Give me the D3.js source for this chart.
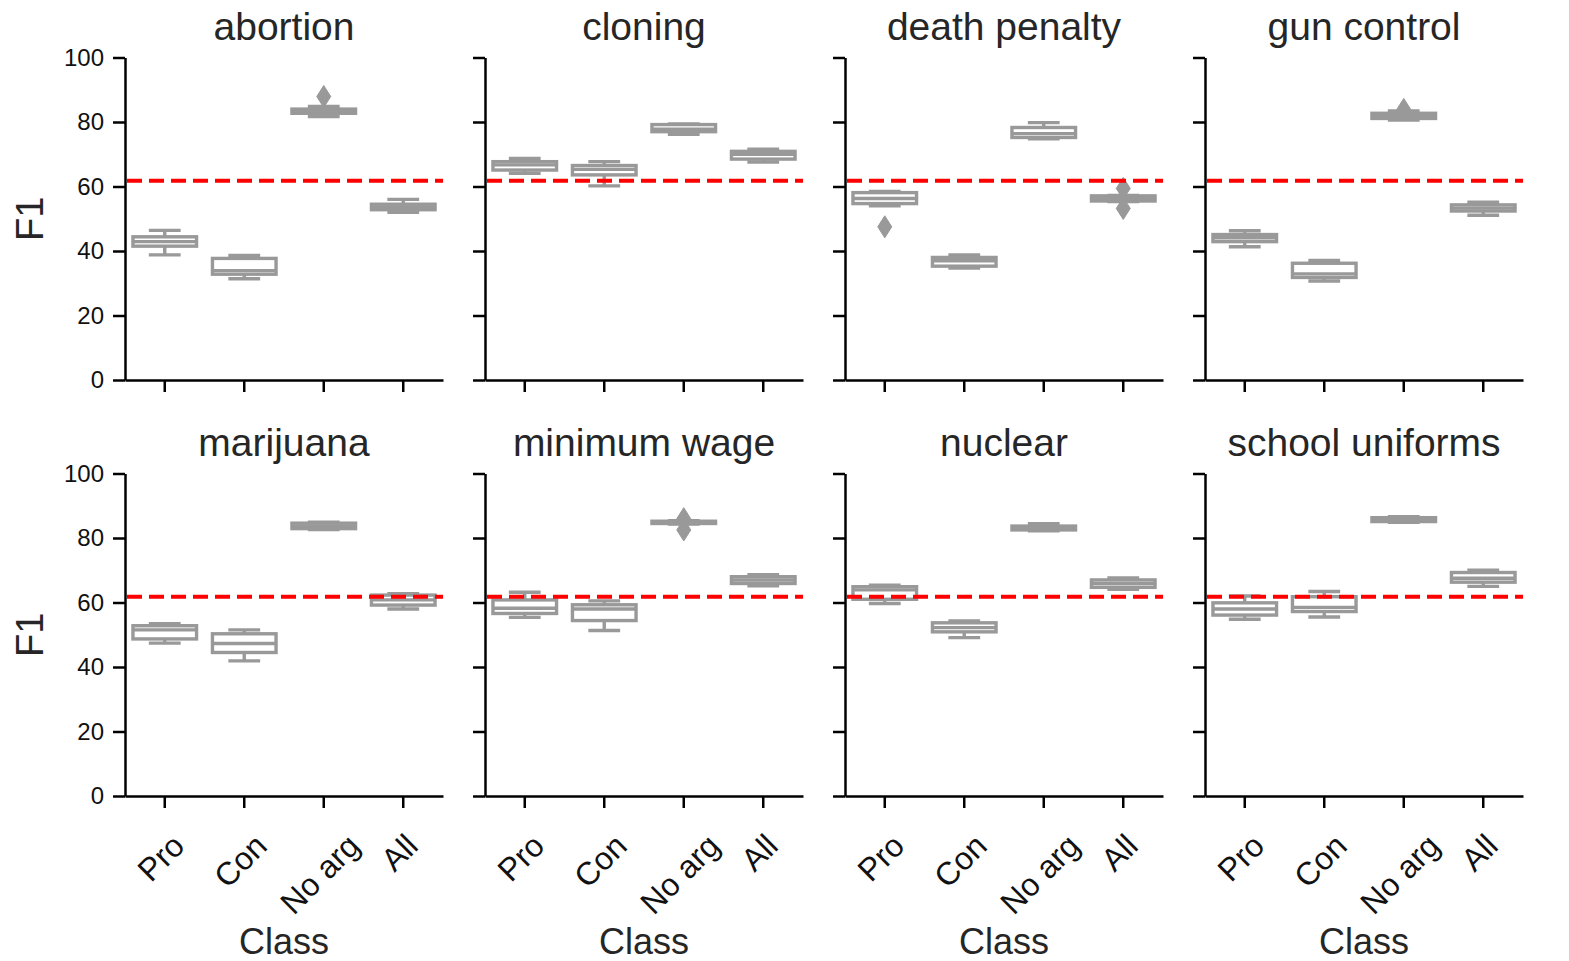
<!DOCTYPE html>
<html>
<head>
<meta charset="utf-8">
<script src="https://cdn.jsdelivr.net/npm/d3@7"></script>
<style>
  body { margin: 0; background: #ffffff; }
  svg text { font-family: "Liberation Sans", Arial, Helvetica, sans-serif; }
</style>
</head>
<body>
<svg id="chart" width="1569" height="961"></svg>
<script>
// ---------- data ----------
const topics = ["abortion", "cloning", "death penalty", "gun control",
                "marijuana", "minimum wage", "nuclear", "school uniforms"];
const classes = ["Pro", "Con", "No arg", "All"];
const yTicks = [0, 20, 40, 60, 80, 100];
const baselineF1 = 61.8;

// five-number summaries per class: [whisker low, Q1, median, Q3, whisker high]
const abortionStats      = [[38.8, 41.5, 42.9, 44.4, 46.4], [31.4, 32.8, 33.9, 37.7, 38.6], [81.7, 82.7, 83.4, 84.0, 84.8], [52.0, 52.8, 53.6, 54.5, 56.0]];
const cloningStats       = [[64.1, 65.1, 66.7, 67.7, 68.7], [60.2, 63.6, 65.3, 66.5, 67.7], [76.2, 77.0, 77.8, 79.2, 79.4], [67.6, 68.5, 70.0, 70.9, 71.6]];
const deathPenaltyStats  = [[54.0, 54.7, 56.3, 58.1, 58.5], [34.7, 35.3, 37.0, 38.0, 38.8], [74.8, 75.2, 76.4, 78.3, 79.8], [55.3, 55.5, 56.3, 57.1, 57.2]];
const gunControlStats    = [[41.3, 42.9, 44.1, 45.1, 46.3], [30.7, 31.8, 32.9, 36.2, 37.1], [80.6, 81.1, 82.0, 82.7, 83.4], [51.1, 52.4, 53.3, 54.3, 55.1]];
const marijuanaStats     = [[47.4, 48.7, 51.5, 52.8, 53.4], [41.9, 44.5, 47.3, 50.3, 51.5], [82.6, 82.9, 83.7, 84.6, 84.9], [58.0, 59.2, 60.8, 62.3, 62.7]];
const minimumWageStats   = [[55.4, 56.6, 58.2, 60.8, 63.2], [51.3, 54.4, 58.0, 59.3, 60.5], [84.3, 84.5, 84.9, 85.2, 85.4], [65.2, 65.9, 67.0, 68.0, 68.6]];
const nuclearStats       = [[59.7, 61.0, 63.9, 64.9, 65.4], [49.1, 50.9, 52.2, 53.7, 54.3], [82.2, 82.5, 83.1, 83.7, 84.4], [64.1, 64.7, 65.9, 67.0, 67.6]];
const schoolUniformStats = [[54.8, 56.1, 58.0, 59.9, 62.0], [55.5, 57.2, 58.5, 61.8, 63.4], [84.9, 85.1, 85.7, 86.3, 86.6], [65.0, 66.3, 67.5, 69.3, 70.0]];

const allStats = [abortionStats, cloningStats, deathPenaltyStats, gunControlStats,
                  marijuanaStats, minimumWageStats, nuclearStats, schoolUniformStats];

// outliers: [topic, class, value]
const outlierTopic = ["abortion", "death penalty", "death penalty", "death penalty", "gun control", "minimum wage", "minimum wage"];
const outlierClass = ["No arg", "Pro", "All", "All", "No arg", "No arg", "No arg"];
const outlierValue = [87.9, 47.5, 59.4, 53.2, 83.9, 86.0, 82.5];

// ---------- layout ----------
const svg = d3.select("#chart");
const panelLeft0 = 125, panelStep = 360, panelW = 318, panelH = 322.5;
const rowTops = [57.5, 473.5];
const gray = "#999999";
const lineW = 3.4;
const textColor = "#262626";

topics.forEach((topic, i) => {
  const col = i % 4, row = Math.floor(i / 4);
  const left = panelLeft0 + col * panelStep;
  const top = rowTops[row];
  const bottom = top + panelH;

  const x = d3.scaleBand().domain(classes).range([left, left + panelW]).padding(0);
  const y = d3.scaleLinear().domain([0, 100]).range([bottom, top]);
  const g = svg.append("g");

  // title
  g.append("text")
    .attr("x", left + panelW / 2).attr("y", top - 18)
    .attr("text-anchor", "middle")
    .attr("font-size", 39).attr("fill", textColor)
    .text(topic);

  // y axis
  const yAxis = d3.axisLeft(y).tickValues(yTicks).tickSize(12).tickSizeOuter(0).tickPadding(9);
  if (col !== 0) yAxis.tickFormat("");
  const ya = g.append("g").attr("transform", `translate(${left},0)`).call(yAxis);
  ya.select(".domain").attr("stroke", "#000").attr("stroke-width", 2.5);
  ya.selectAll(".tick line").attr("stroke", "#000").attr("stroke-width", 2.5);
  ya.selectAll(".tick text").attr("font-size", 24).attr("fill", "#111")
    .attr("font-family", "'Liberation Sans', Arial, sans-serif");

  // x axis
  const xAxis = d3.axisBottom(x).tickSize(12).tickSizeOuter(0).tickFormat("");
  const xa = g.append("g").attr("transform", `translate(0,${bottom})`).call(xAxis);
  xa.select(".domain").attr("stroke", "#000").attr("stroke-width", 2.5);
  xa.selectAll(".tick line").attr("stroke", "#000").attr("stroke-width", 2.5);

  if (row === 1) {
    const fs = 32;
    classes.forEach(c => {
      const cx = x(c) + x.bandwidth() / 2 - 4;
      const t = g.append("text")
        .attr("font-size", fs).attr("fill", "#111")
        .attr("text-anchor", "middle")
        .attr("dy", "0.35em")
        .text(c);
      const w = t.node().getComputedTextLength();
      const h = fs * 0.8;
      const ext = (w + h) * Math.SQRT1_2;
      const cy = bottom + 35 + ext / 2;
      t.attr("x", cx).attr("y", cy)
        .attr("transform", `rotate(-45,${cx},${cy})`);
    });
    g.append("text")
      .attr("x", left + panelW / 2).attr("y", 954)
      .attr("text-anchor", "middle")
      .attr("font-size", 36).attr("fill", textColor)
      .text("Class");
  }

  if (col === 0) {
    const cy = (top + bottom) / 2;
    g.append("text")
      .attr("transform", `translate(43,${cy}) rotate(-90)`)
      .attr("text-anchor", "middle")
      .attr("font-size", 38).attr("fill", textColor)
      .text("F1");
  }

  // boxes
  const stats = allStats[i];
  const bw = x.bandwidth() * 0.8;
  classes.forEach((c, k) => {
    const [lo, q1, med, q3, hi] = stats[k];
    const cx = x(c) + x.bandwidth() / 2;
    const bg = g.append("g")
      .attr("stroke", gray).attr("stroke-width", lineW).attr("fill", "none");
    // whiskers
    bg.append("line").attr("x1", cx).attr("x2", cx).attr("y1", y(lo)).attr("y2", y(q1));
    bg.append("line").attr("x1", cx).attr("x2", cx).attr("y1", y(q3)).attr("y2", y(hi));
    // caps
    bg.append("line").attr("x1", cx - bw / 4).attr("x2", cx + bw / 4).attr("y1", y(lo)).attr("y2", y(lo));
    bg.append("line").attr("x1", cx - bw / 4).attr("x2", cx + bw / 4).attr("y1", y(hi)).attr("y2", y(hi));
    // box
    bg.append("rect")
      .attr("x", cx - bw / 2).attr("width", bw)
      .attr("y", y(q3)).attr("height", y(q1) - y(q3))
      .attr("fill", "#ffffff");
    // median
    bg.append("line").attr("x1", cx - bw / 2).attr("x2", cx + bw / 2).attr("y1", y(med)).attr("y2", y(med));
  });

  // outliers (thin diamonds)
  outlierTopic.forEach((t, j) => {
    if (t !== topic) return;
    const cx = x(outlierClass[j]) + x.bandwidth() / 2;
    const cy = y(outlierValue[j]);
    g.append("path")
      .attr("d", `M${cx},${cy - 11} L${cx + 7},${cy} L${cx},${cy + 11} L${cx - 7},${cy} Z`)
      .attr("fill", gray).attr("stroke", gray).attr("stroke-width", 1);
  });

  // baseline
  g.append("line")
    .attr("x1", left + 2).attr("x2", left + panelW)
    .attr("y1", y(baselineF1)).attr("y2", y(baselineF1))
    .attr("stroke", "#ff0000").attr("stroke-width", 4)
    .attr("stroke-dasharray", "15,7");
});
</script>
</body>
</html>
